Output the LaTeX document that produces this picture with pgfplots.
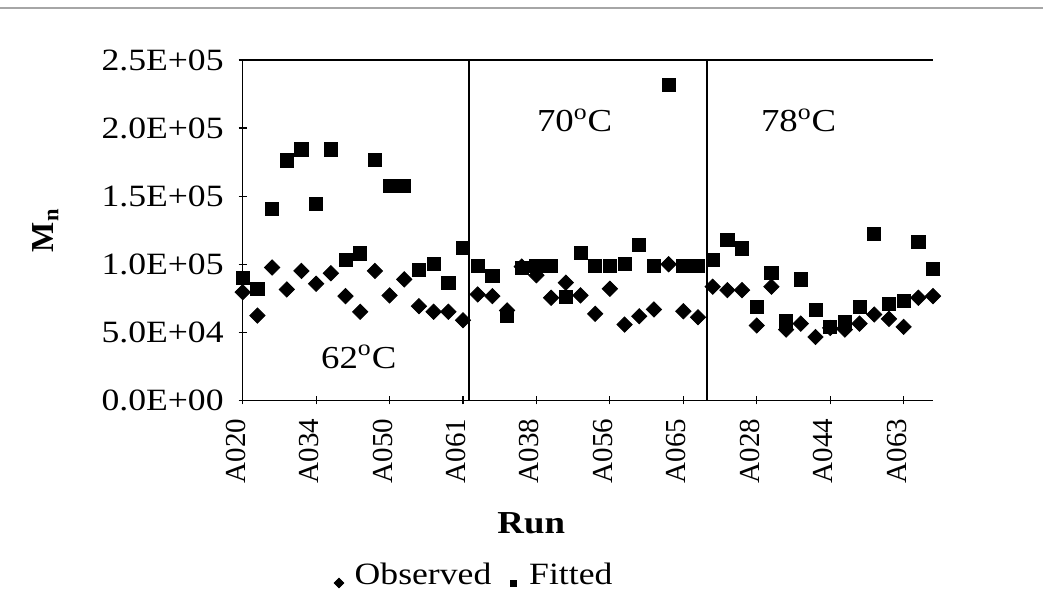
\documentclass[border=0pt]{standalone}
\usepackage{fontspec}
\setmainfont{Liberation Serif}[FakeStretch=1.15]
\newfontfamily\rotfont{Liberation Serif}
\usepackage{pgfplots}
\pgfplotsset{compat=1.18}
\begin{document}
\begin{tikzpicture}
\useasboundingbox (-121.35pt,-100.8pt) rectangle (400.15pt,200.2pt);
\draw[gray!70, line width=0.8pt] (-121.35pt,196.2pt) -- (400.15pt,196.2pt);
\begin{axis}[
  at={(0pt,0pt)}, anchor=south west,
  scale only axis, width=345.15pt, height=170.2pt,
  xmin=0, xmax=47, ymin=0, ymax=250000,
  axis x line*=box, axis y line*=left,
  axis line style={black, line width=0.8pt},
  xtick={0,5,...,45},
  xticklabels={A020,A034,A050,A061,A038,A056,A065,A028,A044,A063},
  xticklabel style={font=\rotfont\fontsize{14.5}{17}\selectfont, rotate=90, anchor=east, inner sep=0pt},
  every x tick label/.append style={xshift=-7pt, yshift=3.5pt},
  ytick={0,50000,100000,150000,200000,250000},
  yticklabels={0.0E+00,5.0E+04,1.0E+05,1.5E+05,2.0E+05,2.5E+05},
  yticklabel style={font=\fontsize{15.5}{18}\selectfont, xshift=-4pt},
  scaled y ticks=false,
  xtick pos=lower, ytick pos=left,
  tick align=center, major tick length=4pt,
  tick style={black, line width=0.6pt},
  xlabel={\textbf{Run}},
  xlabel style={font=\fontsize{16}{19}\selectfont, at={(axis description cs:0.418,-0.36)}, anchor=center},
  ylabel={\textbf{M}\textsubscript{\textbf{n}}},
  ylabel style={font=\rotfont\fontsize{16}{19}\selectfont, at={(axis description cs:-0.286,0.5)}, anchor=center},
  legend columns=2,
  legend style={at={(axis description cs:0.336,-0.513)}, anchor=center, draw=none, fill=none,
    font=\fontsize{15.5}{18}\selectfont,
    /tikz/every even column/.append style={column sep=6pt}},
  legend image code/.code={\draw[#1] plot coordinates {(0cm,-0.14cm)}; \path (-0.1cm,0cm) (0.2cm,0cm);},
  clip=false,
]
\addplot[only marks, mark=square*, mark size=2.7pt, mark options={rotate=45, fill=black, draw=black}, black,
  legend image post style={mark size=1.7pt}] coordinates {
(0,79500) (1,62300) (2,97600) (3,81500) (4,95100) (5,85700) (6,93400) (7,76600)
(8,65100) (9,95100) (10,77100) (11,88900) (12,69200) (13,65100) (14,65100) (15,58900)
(16,77800) (17,76600) (18,66100) (19,98300) (20,91900) (21,75400) (22,86500) (23,77100)
(24,63600) (25,82000) (26,55700) (27,61800) (28,66800) (29,100000) (30,65500) (31,61100)
(32,83500) (33,81000) (34,81000) (35,55000) (36,83500) (37,52000) (38,56400) (39,46600)
(40,53200) (41,52000) (42,56400) (43,63100) (44,59900) (45,54000) (46,75400) (47,76600)
};
\addlegendentry{Observed}
\addplot[only marks, mark=square*, mark size=3.3pt, mark options={fill=black, draw=black}, black,
  legend image post style={mark size=1.5pt}] coordinates {
(0,90200) (1,82000) (2,140600) (3,176300) (4,184400) (5,144300) (6,184400) (7,103200)
(8,107900) (9,176800) (10,157800) (11,157800) (12,95800) (13,100500) (14,86500) (15,112300)
(16,98700) (17,91400) (18,62300) (19,97600) (20,98700) (21,98700) (22,76100) (23,108100)
(24,98700) (25,98700) (26,100500) (27,114000) (28,98700) (29,231700) (30,98700) (31,98700)
(32,103000) (33,118000) (34,111600) (35,68500) (36,93400) (37,58100) (38,88900) (39,66300)
(40,54000) (41,57400) (42,68800) (43,122200) (44,71000) (45,72900) (46,116500) (47,96800)
};
\addlegendentry{Fitted}
\draw[black, line width=0.8pt] (axis cs:15.4,0) -- (axis cs:15.4,250000);
\draw[black, line width=0.8pt] (axis cs:31.6,0) -- (axis cs:31.6,250000);
\node[font=\fontsize{16}{19}\selectfont] at (axis cs:7.9,31800) {62\textsuperscript{o}C};
\node[font=\fontsize{16}{19}\selectfont] at (axis cs:22.6,205800) {70\textsuperscript{o}C};
\node[font=\fontsize{16}{19}\selectfont] at (axis cs:37.85,205800) {78\textsuperscript{o}C};
\end{axis}
\end{tikzpicture}
\end{document}
